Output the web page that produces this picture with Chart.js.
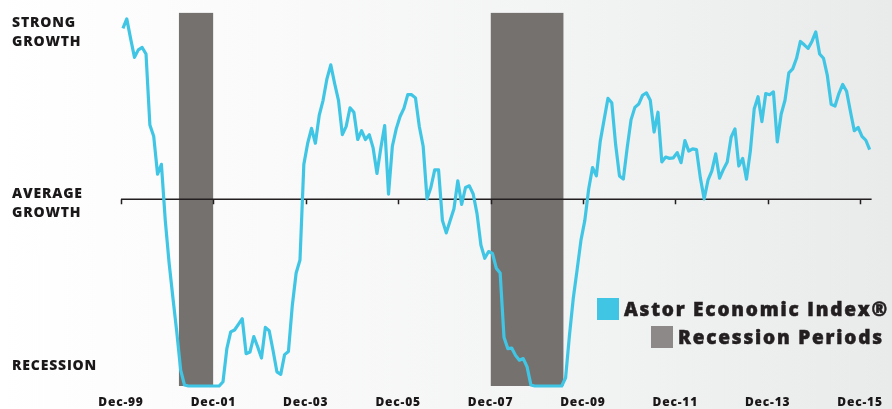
<!DOCTYPE html>
<html lang="en">
<head>
    <meta charset="UTF-8">
    <title>Astor Economic Index</title>
    <script src="https://cdn.jsdelivr.net/npm/chart.js"></script>
    <style>
        body { margin: 0; }
        .wrap {
            position: relative;
            width: 892px;
            height: 409px;
            background: linear-gradient(to right, #ffffff 0%, #fafafa 30%, #f2f3f3 65%, #e9eaea 100%);
            font-family: 'Open Sans', sans-serif;
        }
        .legend-row {
            position: absolute;
            display: flex;
            align-items: center;
            font-weight: 800;
            font-size: 19px;
            letter-spacing: 1.8px;
            -webkit-text-stroke: 0.5px #231f20;
            color: #231f20;
            white-space: nowrap;
        }
        .swatch { width: 22px; height: 22px; margin-right: 5px; }
    </style>
</head>
<body>
    <div class="wrap">
        <canvas id="astorChart" width="892" height="409"></canvas>
        <div class="legend-row" style="left:597px; top:296px;">
            <span class="swatch" style="background:#40c6e4"></span>Astor Economic Index®
        </div>
        <div class="legend-row" style="left:651px; top:324px;">
            <span class="swatch" style="background:#8d8988"></span>Recession Periods
        </div>
    </div>

    <script>
        // monthly index values, Dec-99 .. Feb-16 (-100 = recession, 0 = average, 100 = strong)
        const indexValues = [
            91.5, 96.6, 86, 76, 80, 81.3, 77.8, 39.8, 33.7, 13.4, 18.7, -11.3,
            -34.2, -53, -71.3, -91.5, -99.5, -100, -100, -100, -100, -100, -100, -100,
            -100, -100, -97.7, -80, -71, -70, -67, -64, -82.7, -81.8, -73.5, -79,
            -85, -68.6, -70.4, -81, -92.4, -93.8, -83.2, -81.5, -57, -39.5, -32.5, 18.7,
            30, 38, 30, 45, 53, 64.5, 72, 62, 53, 34.6, 39, 49,
            46.6, 32, 36.7, 32, 34.6, 27.5, 13.8, 27.5, 39.5, 2.8, 28.4, 37.7,
            44.3, 48.7, 56, 56, 54.3, 39, 28.4, 0.2, 6.3, 15.7, 15.7, -11.3,
            -18, -11.5, -5.1, 9.9, -2.8, 6.3, 7.2, 2.8, -7.8, -24.5, -31.6, -28,
            -29, -36.9, -39.5, -73.9, -80, -79.7, -83.6, -86.2, -85.3, -89.8, -99.5, -100,
            -100, -100, -100, -100, -100, -100, -100, -95.6, -73, -53, -37.7, -21.9,
            -11.3, 5.5, 17, 12.5, 31, 42.5, 54, 51.7, 29.3, 12.5, 10.8, 27.5,
            42.5, 49.2, 51, 55.7, 57, 53, 36, 46.6, 20, 22.6, 21.9, 22.2,
            25, 19.6, 31.4, 25.8, 27, 26.6, 11.6, 0.2, 10.2, 15.2, 24.3, 11.3,
            16, 20, 33.2, 37.7, 17.8, 21.9, 10.8, 25.8, 48.3, 54.9, 41.6, 56.6,
            56, 57.5, 30.7, 45.5, 53, 67.7, 69.8, 75.5, 84.5, 82.7, 80.8, 84.5,
            89.6, 77.8, 75.5, 66.3, 50.8, 49.9, 56.6, 61.5, 57.8, 47, 36.7, 38.5,
            33.7, 31.6, 26.6
        ];

        // recession periods as [first month, month after last] (0 = Dec-99)
        const recessions = [[15, 24], [96, 115]];

        const xTickMonths = [0, 24, 48, 72, 96, 120, 144, 168, 192];
        const xTickLabels = ['Dec-99', 'Dec-01', 'Dec-03', 'Dec-05', 'Dec-07', 'Dec-09', 'Dec-11', 'Dec-13', 'Dec-15'];

        const yTickValues = [89.5, -2.5, -89.5];
        const yTickLabels = [['STRONG', 'GROWTH'], ['AVERAGE', 'GROWTH'], ['RECESSION']];

        const lineColor = '#40c6e4';
        const recessionColor = '#75716f';
        const textColor = '#1b1819';

        // wider letter spacing for the canvas labels
        const spacingPlugin = {
            id: 'spacing',
            beforeLayout(chart) { chart.ctx.letterSpacing = '0.8px'; },
            beforeDraw(chart) { chart.ctx.letterSpacing = '0.8px'; }
        };

        // average-growth axis line with small tick marks, drawn over the recession bars
        const axisPlugin = {
            id: 'avgAxis',
            afterDatasetDraw(chart, args) {
                if (args.index !== 1) return;
                const { ctx, scales: { x, y } } = chart;
                const y0 = y.getPixelForValue(0);
                ctx.save();
                ctx.strokeStyle = '#231f20';
                ctx.lineWidth = 1.5;
                ctx.beginPath();
                ctx.moveTo(x.getPixelForValue(x.min), y0);
                ctx.lineTo(x.getPixelForValue(x.max), y0);
                x.ticks.forEach(t => {
                    const px = Math.round(x.getPixelForValue(t.value)) + 0.5;
                    ctx.moveTo(px, y0);
                    ctx.lineTo(px, y0 + 5);
                });
                ctx.stroke();
                ctx.restore();
            }
        };

        const datasets = [{
            label: 'Astor Economic Index®',
            data: indexValues.map((v, i) => ({ x: i + 0.5, y: v })),
            borderColor: lineColor,
            borderWidth: 3.2,
            borderJoinStyle: 'round',
            pointRadius: 0,
            tension: 0,
            clip: false
        }];
        recessions.forEach(([a, b]) => {
            datasets.push({
                label: 'Recession Periods',
                data: [{ x: a, y: 100 }, { x: b, y: 100 }],
                borderWidth: 0,
                backgroundColor: recessionColor,
                fill: 'start',
                pointRadius: 0
            });
        });

        new Chart(document.getElementById('astorChart'), {
            type: 'line',
            data: { datasets },
            plugins: [spacingPlugin, axisPlugin],
            options: {
                responsive: false,
                animation: false,
                layout: { padding: { left: 12, top: 8, right: 17, bottom: 0 } },
                plugins: {
                    legend: { display: false },
                    tooltip: { enabled: false }
                },
                scales: {
                    x: {
                        type: 'linear',
                        min: 0,
                        max: 195,
                        grid: { display: false, drawTicks: false },
                        border: { display: false },
                        afterBuildTicks: scale => { scale.ticks = xTickMonths.map(v => ({ value: v })); },
                        afterFit: scale => { scale.height = 23; },
                        ticks: {
                            padding: 9,
                            maxRotation: 0,
                            autoSkip: false,
                            color: textColor,
                            font: { family: 'Open Sans', size: 12, weight: '800' },
                            callback: (v) => xTickLabels[xTickMonths.indexOf(v)]
                        }
                    },
                    y: {
                        min: -100,
                        max: 100,
                        grid: { display: false, drawTicks: false },
                        border: { display: false },
                        afterBuildTicks: scale => { scale.ticks = yTickValues.map(v => ({ value: v })); },
                        afterFit: scale => { scale.width = 109; },
                        ticks: {
                            crossAlign: 'far',
                            autoSkip: false,
                            color: textColor,
                            font: { family: 'Open Sans', size: 14, weight: '800', lineHeight: 1.36 },
                            callback: (v) => yTickLabels[yTickValues.indexOf(v)]
                        }
                    }
                }
            }
        });
    </script>
</body>
</html>
